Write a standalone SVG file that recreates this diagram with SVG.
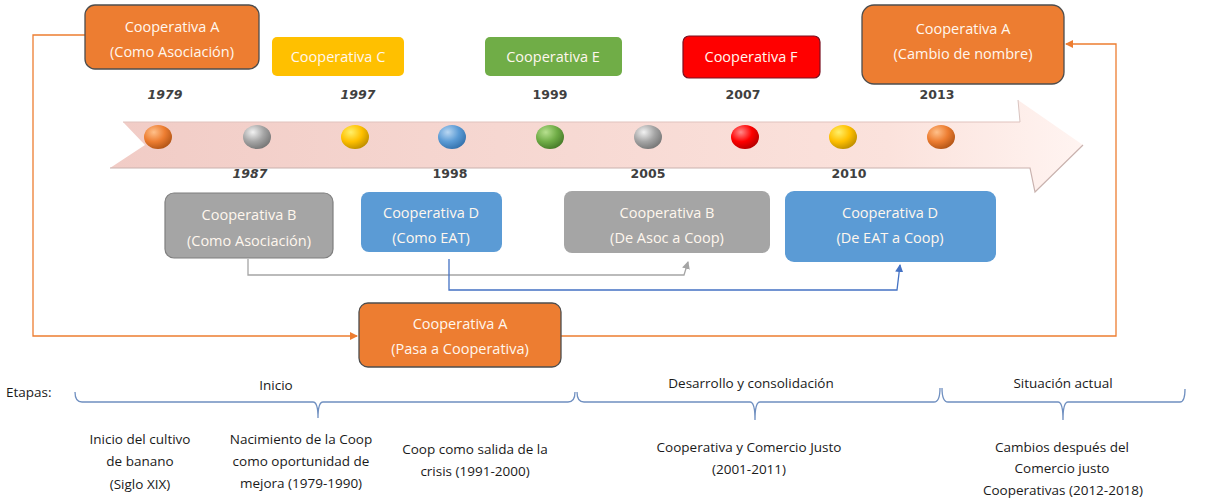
<svg xmlns="http://www.w3.org/2000/svg" width="1206" height="504" viewBox="0 0 1206 504">
<style>
.bt{font-family:"Open Sans","Liberation Sans",Arial,sans-serif;font-size:14.5px;text-anchor:middle;fill:#FFF7EE}
.yr{font-family:"DejaVu Sans","Liberation Sans",sans-serif;font-size:12.5px;font-weight:bold;text-anchor:middle;fill:#404040}
.it{font-style:italic}
.lb{font-family:"Open Sans","Liberation Sans",Arial,sans-serif;font-size:13.5px;text-anchor:middle;fill:#1a1a1a}
.brace{fill:none;stroke:#6F8FC0;stroke-width:1.3}
</style>
<defs>
<linearGradient id="band" x1="0" y1="0" x2="1" y2="0">
<stop offset="0" stop-color="#F1CCC6"/>
<stop offset="0.8" stop-color="#FBE2DC"/>
<stop offset="1" stop-color="#FFF4F1"/>
</linearGradient>
<radialGradient id="g-or" cx="0.35" cy="0.3" r="0.8"><stop offset="0" stop-color="#FFC08A"/><stop offset="0.5" stop-color="#ED7D31"/><stop offset="1" stop-color="#A84E12"/></radialGradient>
<radialGradient id="g-gr" cx="0.35" cy="0.3" r="0.8"><stop offset="0" stop-color="#F2F2F2"/><stop offset="0.5" stop-color="#A5A5A5"/><stop offset="1" stop-color="#6E6E6E"/></radialGradient>
<radialGradient id="g-ye" cx="0.35" cy="0.3" r="0.8"><stop offset="0" stop-color="#FFF06A"/><stop offset="0.5" stop-color="#FFC000"/><stop offset="1" stop-color="#B38600"/></radialGradient>
<radialGradient id="g-bl" cx="0.35" cy="0.3" r="0.8"><stop offset="0" stop-color="#B9D7F2"/><stop offset="0.5" stop-color="#5B9BD5"/><stop offset="1" stop-color="#2E6BA6"/></radialGradient>
<radialGradient id="g-gn" cx="0.35" cy="0.3" r="0.8"><stop offset="0" stop-color="#B7E08F"/><stop offset="0.5" stop-color="#70AD47"/><stop offset="1" stop-color="#3F7223"/></radialGradient>
<radialGradient id="g-rd" cx="0.35" cy="0.3" r="0.8"><stop offset="0" stop-color="#FF8A8A"/><stop offset="0.5" stop-color="#FF0000"/><stop offset="1" stop-color="#A80000"/></radialGradient>
<marker id="ao" markerWidth="8" markerHeight="8" refX="7" refY="4" orient="auto" markerUnits="userSpaceOnUse"><path d="M0,0 L8,4 L0,8 Z" fill="#ED7D31"/></marker>
<marker id="ag" markerWidth="8" markerHeight="8" refX="7" refY="4" orient="auto" markerUnits="userSpaceOnUse"><path d="M0,0 L8,4 L0,8 Z" fill="#A5A5A5"/></marker>
<marker id="ab" markerWidth="8" markerHeight="8" refX="7" refY="4" orient="auto" markerUnits="userSpaceOnUse"><path d="M0,0 L8,4 L0,8 Z" fill="#4472C4"/></marker>
</defs>

<g id="timeline-arrow">
<path d="M123,122 L1020,122 L1018,100 L1083,145 L1035,192 L1030,168 L110,168 L145,145 Z" fill="url(#band)"/>
<path d="M123,122 L1020,122" stroke="#E0C2BD" stroke-width="1" fill="none"/>
<path d="M110,168 L1030,168 L1035,192 L1083,145" stroke="#C9B2AE" stroke-width="1.2" fill="none"/>
<path d="M1018,100 L1020,122" stroke="#D9C4C0" stroke-width="1" fill="none"/>
</g>

<g id="dots">
<ellipse cx="158" cy="137" rx="14" ry="12" fill="url(#g-or)"/>
<ellipse cx="257" cy="137" rx="14" ry="12" fill="url(#g-gr)"/>
<ellipse cx="355" cy="137" rx="14" ry="12" fill="url(#g-ye)"/>
<ellipse cx="452" cy="137" rx="14" ry="12" fill="url(#g-bl)"/>
<ellipse cx="550" cy="137" rx="14" ry="12" fill="url(#g-gn)"/>
<ellipse cx="648" cy="137" rx="14" ry="12" fill="url(#g-gr)"/>
<ellipse cx="745" cy="137" rx="14" ry="12" fill="url(#g-rd)"/>
<ellipse cx="843" cy="137" rx="14" ry="12" fill="url(#g-ye)"/>
<ellipse cx="941" cy="137" rx="14" ry="12" fill="url(#g-or)"/>
</g>

<g id="years">
<text class="yr it" x="165" y="99">1979</text>
<text class="yr it" x="358" y="99">1997</text>
<text class="yr" x="550" y="99">1999</text>
<text class="yr" x="743" y="99">2007</text>
<text class="yr" x="937" y="99">2013</text>
<text class="yr it" x="250" y="178">1987</text>
<text class="yr" x="450" y="178">1998</text>
<text class="yr" x="648" y="178">2005</text>
<text class="yr" x="849" y="178">2010</text>
</g>

<g id="connectors">
<path d="M85,35 L33,35 L33,336 L357,336" fill="none" stroke="#ED7D31" stroke-width="1.3" marker-end="url(#ao)"/>
<path d="M561,336 L1116,336 L1116,44 L1066,44" fill="none" stroke="#ED7D31" stroke-width="1.3" marker-end="url(#ao)"/>
<path d="M248,259 L248,275 L684,275 L688,262" fill="none" stroke="#A5A5A5" stroke-width="1.3" marker-end="url(#ag)"/>
<path d="M449,259 L449,290 L897,290 L900,265" fill="none" stroke="#4472C4" stroke-width="1.3" marker-end="url(#ab)"/>
</g>

<g id="coopA-asociacion">
<rect x="85" y="5" width="174" height="64" rx="10" fill="#ED7D31" stroke="#4D4D4D" stroke-width="1.3"/>
<text class="bt" x="172" y="32">Cooperativa A</text>
<text class="bt" x="172" y="57">(Como Asociación)</text>
</g>
<g id="coopC">
<rect x="272" y="37" width="132" height="39" rx="5" fill="#FFC000"/>
<text class="bt" x="338" y="62">Cooperativa C</text>
</g>
<g id="coopE">
<rect x="485" y="37" width="137" height="39" rx="5" fill="#70AD47"/>
<text class="bt" x="553" y="62">Cooperativa E</text>
</g>
<g id="coopF">
<rect x="683" y="36" width="137" height="42" rx="6" fill="#FF0000" stroke="#7A1020" stroke-width="1.2"/>
<text class="bt" x="751" y="62">Cooperativa F</text>
</g>
<g id="coopA-cambio">
<rect x="862" y="5" width="202" height="79" rx="12" fill="#ED7D31" stroke="#4D4D4D" stroke-width="1.3"/>
<text class="bt" x="963" y="34">Cooperativa A</text>
<text class="bt" x="963" y="59">(Cambio de nombre)</text>
</g>
<g id="coopB-asociacion">
<rect x="165" y="193" width="168" height="65" rx="9" fill="#A5A5A5" stroke="#7F7F7F" stroke-width="1.2"/>
<text class="bt" x="249" y="220">Cooperativa B</text>
<text class="bt" x="249" y="246">(Como Asociación)</text>
</g>
<g id="coopD-eat">
<rect x="361" y="192" width="141" height="60" rx="8" fill="#5B9BD5"/>
<text class="bt" x="431" y="218">Cooperativa D</text>
<text class="bt" x="431" y="243">(Como EAT)</text>
</g>
<g id="coopB-deasoc">
<rect x="564" y="191" width="206" height="62" rx="8" fill="#A5A5A5"/>
<text class="bt" x="667" y="218">Cooperativa B</text>
<text class="bt" x="667" y="243">(De Asoc a Coop)</text>
</g>
<g id="coopD-deeat">
<rect x="785" y="191" width="211" height="71" rx="9" fill="#5B9BD5"/>
<text class="bt" x="890" y="218">Cooperativa D</text>
<text class="bt" x="890" y="243">(De EAT a Coop)</text>
</g>
<g id="coopA-pasa">
<rect x="359" y="303" width="202" height="64" rx="9" fill="#ED7D31" stroke="#4D4D4D" stroke-width="1.3"/>
<text class="bt" x="460" y="329">Cooperativa A</text>
<text class="bt" x="460" y="354">(Pasa a Cooperativa)</text>
</g>

<g id="stages">
<text class="lb" x="6" y="397" style="text-anchor:start">Etapas:</text>
<text class="lb" x="276" y="390">Inicio</text>
<text class="lb" x="751" y="388">Desarrollo y consolidación</text>
<text class="lb" x="1063" y="388">Situación actual</text>
<path class="brace" d="M75,392 Q75,402 82,402 L313,402 Q318,402 318,418 Q318,402 323,402 L568,402 Q575,402 575,392"/>
<path class="brace" d="M577,392 Q577,402 584,402 L750,402 Q755,402 755,420 Q755,402 760,402 L934,402 Q940,402 940,388"/>
<path class="brace" d="M942,388 Q942,402 948,402 L1058,402 Q1063,402 1063,420 Q1063,402 1068,402 L1180,402 Q1185,402 1185,389"/>
<text class="lb" x="140" y="444">Inicio del cultivo</text>
<text class="lb" x="140" y="466">de banano</text>
<text class="lb" x="140" y="489">(Siglo XIX)</text>
<text class="lb" x="301" y="444">Nacimiento de la Coop</text>
<text class="lb" x="301" y="466">como oportunidad de</text>
<text class="lb" x="301" y="488">mejora (1979-1990)</text>
<text class="lb" x="475" y="454">Coop como salida de la</text>
<text class="lb" x="475" y="476">crisis (1991-2000)</text>
<text class="lb" x="749" y="452">Cooperativa y Comercio Justo</text>
<text class="lb" x="749" y="474">(2001-2011)</text>
<text class="lb" x="1062" y="452">Cambios después del</text>
<text class="lb" x="1062" y="473">Comercio justo</text>
<text class="lb" x="1063" y="495">Cooperativas (2012-2018)</text>
</g>
</svg>
